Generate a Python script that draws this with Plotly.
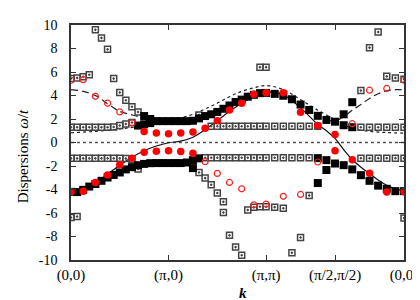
import plotly.graph_objects as go

# k-path: index 0-16 (0,0)->(pi,0), 16-32 (pi,0)->(pi,pi), 32-40 (pi,pi)->(pi/2,pi/2), 40-48 -> (0,0)
def kpos(i):
    if i <= 16:
        return i / 16
    if i <= 32:
        return 1 + (i - 16) / 16
    if i <= 40:
        return 2 + (i - 32) / 8 * 0.70711
    return 2.70711 + (i - 40) / 8 * 0.70711

tick_vals = [0, 1, 2, 2.70711, 3.41421]
tick_text = ["(0,0)", "(π,0)", "(π,π)", "(π/2,π/2)", "(0,0)"]
y_ticks = list(range(-10, 11, 2))
y_text = [str(v) for v in y_ticks]

# black filled squares
blk_k = [0,1,2,3,4,5,6,7,8,9,10,11,12,13,14,15,16,17,18,19,20,20,21,
         11,12,12,13,13,14,15,16,17,18,19,20,21,22,23,24,25,26,27,28,29,30,31,32,
         33,34,35,36,37,38,39,40,41,41,42,42,
         38,38,39,39,40,41,42,43,44,45,46,47,48]
blk_w = [-4.2,-4.22,-4.03,-3.75,-3.53,-3.26,-2.98,-2.76,-2.55,-2.29,-2.1,-1.93,-1.82,-1.76,-1.75,-1.75,-1.75,-1.75,-1.75,-1.7,-1.5,-2.18,-1.35,
         1.44,2.25,1.55,2.0,1.65,1.82,1.82,1.82,1.82,1.82,1.82,1.85,2.05,2.25,2.4,2.6,2.87,3.15,3.45,3.65,3.9,4.06,4.2,4.22,
         4.14,3.98,3.68,3.23,2.77,2.27,1.92,1.77,2.4,1.47,3.43,1.3,
         -1.33,-3.45,-1.5,-2.34,-1.79,-1.93,-2.29,-2.78,-3.26,-3.67,-3.94,-4.14,-4.14]

# gray open squares
opn_k = ([0,1,2,3,4,5,6,7,8,9,10,11]
         + [0,1,2,3,4,5,6,7,8,9,10]
         + [0,1,2,3,4,5,6,7,8,9,10,11]
         + [0,1]
         + [21] + list(range(23, 39)) + list(range(43, 49))
         + list(range(22, 38)) + list(range(43, 49))
         + [21,22,23,24,25,25,26,27,28,29,30,31,32,33,34]
         + [31,32]
         + [35,36,37,48]
         + [43,44,45,46,47,48])
opn_w = ([5.44,5.5,5.6,5.77,9.59,8.9,7.93,5.44,4.26,3.6,3.04,2.6]
         + [1.3,1.3,1.3,1.3,1.3,1.3,1.3,1.32,1.45,1.57,1.7]
         + [-1.35,-1.35,-1.35,-1.35,-1.35,-1.35,-1.35,-1.35,-1.35,-1.37,-1.45,-2.25]
         + [-6.38,-6.3]
         + [2.35] + [1.38]*16 + [1.3]*6
         + [-1.3]*16 + [-1.33]*6
         + [-2.55,-3.03,-3.6,-4.3,-5.05,-5.96,-7.9,-8.9,-9.6,-5.74,-5.5,-5.47,-5.47,-5.5,-5.6]
         + [6.41,6.41]
         + [-9.39,-8.09,-4.5,-6.43]
         + [4.42,8.07,9.4,5.63,5.5,5.39])

# red open circles
ro_k = [0,2,4,6,8,10,42,44,46,48,22,24,26,28,30,32,34,36,38]
ro_w = [5.3,5.35,3.93,3.35,2.6,1.66,1.6,4.45,4.6,5.3,-1.63,-2.63,-3.4,-3.94,-5.3,-5.24,-4.58,-4.42,-1.66]

# red filled circles
rf_k = [0,2,4,6,8,10,12,12,14,14,16,16,18,18,20,20,22,24,26,28,30,32,34,36,38,40,40,42,44,46,48]
rf_w = [-4.2,-4.14,-3.4,-2.76,-1.9,-1.33,-0.83,0.94,-0.74,0.8,-0.71,0.75,-0.77,0.8,-0.91,0.89,
        1.22,1.85,2.77,3.35,4.1,4.23,4.24,2.57,1.44,0.68,-0.71,-1.46,-2.62,-4.22,-4.2]

# solid line
sol_k = [0,2,4,6,8,10,12,14,16,18,20,22,24,26,28,30,32,34,36,38,39,40,41,42,43,44,45,46,47,48]
sol_w = [-4.12,-3.95,-3.45,-2.7,-1.93,-1.25,-0.7,-0.3,-0.02,0.12,0.45,1.1,1.85,2.65,3.35,3.95,4.3,
         4.05,2.95,1.55,1.0,0.35,-0.6,-1.45,-2.1,-2.65,-3.2,-3.65,-3.95,-4.1]

# short-dash line
sd_k = [0,4,8,12,16,18,20,22,24,26,28,30,32,34,36,38,40,42,44,46,48]
sd_w = [0.83,0.95,1.15,1.45,1.85,2.1,2.4,2.85,3.35,3.9,4.35,4.65,4.85,4.5,3.65,2.75,1.95,1.2,0.95,0.85,0.8]

# long-dash line (visible parts)
ld1_k = [0,2,4,6,8,10,12,14,16]
ld1_w = [4.5,4.35,4.0,3.3,2.65,2.35,2.1,1.95,1.85]
ld2_k = [39,40,41,42,43,44,45,46,47,48]
ld2_w = [1.92,1.85,2.2,2.75,3.23,3.75,4.15,4.4,4.5,4.5]

fig = go.Figure()
X = lambda ks: [kpos(k) for k in ks]

fig.add_trace(go.Scatter(x=[0, kpos(48)], y=[0, 0], mode="lines",
                         line=dict(color="#555", width=1.3, dash="dot")))
fig.add_trace(go.Scatter(x=X(sd_k), y=sd_w, mode="lines", line_shape="spline",
                         line=dict(color="#222", width=1.2, dash="3px,3px")))
fig.add_trace(go.Scatter(x=X(ld1_k), y=ld1_w, mode="lines", line_shape="spline",
                         line=dict(color="#222", width=1.2, dash="7px,4px")))
fig.add_trace(go.Scatter(x=X(ld2_k), y=ld2_w, mode="lines", line_shape="spline",
                         line=dict(color="#222", width=1.2, dash="7px,4px")))
fig.add_trace(go.Scatter(x=X(sol_k), y=sol_w, mode="lines", line_shape="spline",
                         line=dict(color="#111", width=1.2)))
fig.add_trace(go.Scatter(x=X(opn_k), y=opn_w, mode="markers",
                         marker=dict(symbol="square-open-dot", size=6, color="#444",
                                     line=dict(width=1.5, color="#444"))))
fig.add_trace(go.Scatter(x=X(blk_k), y=blk_w, mode="markers",
                         marker=dict(symbol="square", size=8, color="#000")))
fig.add_trace(go.Scatter(x=X(ro_k), y=ro_w, mode="markers",
                         marker=dict(symbol="circle-open", size=6, color="#ff2020",
                                     line=dict(width=1.2, color="#ff2020"))))
fig.add_trace(go.Scatter(x=X(rf_k), y=rf_w, mode="markers",
                         marker=dict(symbol="circle", size=7.5, color="#ff0000")))

fnt = "Liberation Serif, Times New Roman, serif"
fig.update_layout(
    width=420, height=300, showlegend=False,
    margin=dict(l=63, r=14, t=10, b=48),
    paper_bgcolor="white", plot_bgcolor="white",
    font=dict(family=fnt, size=14, color="#000"),
    xaxis=dict(range=[0, kpos(48)], tickvals=tick_vals, ticktext=tick_text,
               ticks="inside", ticklen=5, tickcolor="#333", showgrid=False, zeroline=False,
               showline=True, linecolor="#333", linewidth=1.5, mirror="ticks",
               tickfont=dict(size=15), ticklabelstandoff=0, ticklabeloverflow="allow"),
    yaxis=dict(range=[-10, 10], tickvals=y_ticks, ticktext=y_text,
               ticks="inside", ticklen=5, tickcolor="#333", showgrid=False, zeroline=False,
               showline=True, linecolor="#333", linewidth=1.5, mirror="ticks",
               tickfont=dict(size=14), ticklabelstandoff=9),
    annotations=[
        dict(text="Dispersions <i>ω</i>/<i>t</i>", xref="paper", yref="paper",
             x=-0.145, y=0.44, textangle=-90, showarrow=False,
             xanchor="center", yanchor="middle", font=dict(size=15)),
        dict(text="<b><i>k</i></b>", xref="paper", yref="paper",
             x=0.516, y=-0.14, showarrow=False, xanchor="center", yanchor="middle",
             font=dict(size=15)),
    ],
)

fig.write_html("out.html")
